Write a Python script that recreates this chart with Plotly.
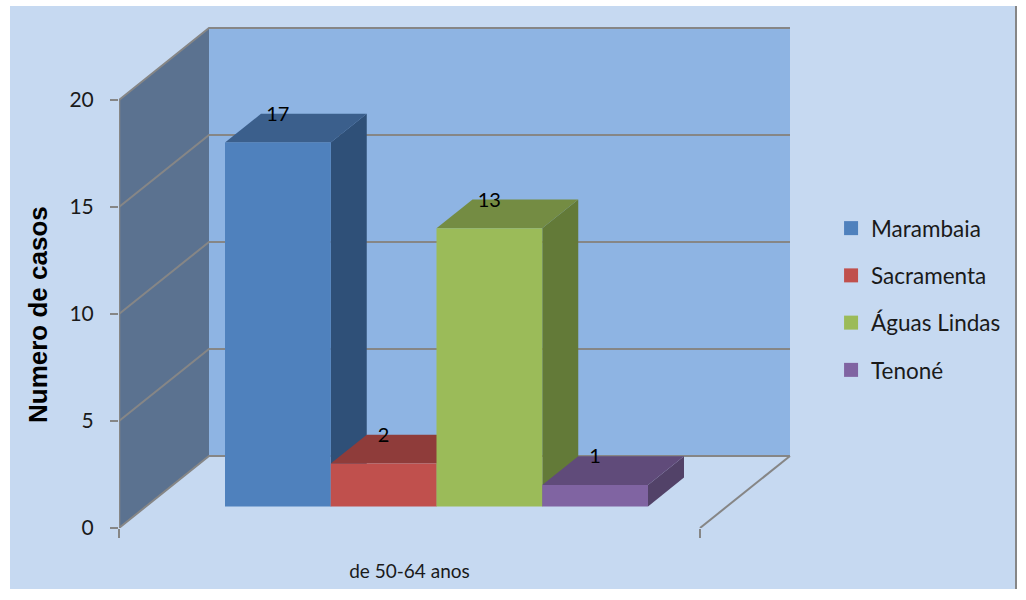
import plotly.graph_objects as go

# ---- data ----
CATEGORY = "de 50-64 anos"
SERIES = ["Marambaia", "Sacramenta", "Águas Lindas", "Tenoné"]
VALUES = [17, 2, 13, 1]
FRONT = ["#4F81BD", "#C0504D", "#9BBB59", "#8064A2"]
TOP = ["#3B5F8C", "#8F3C3A", "#748C43", "#604B7A"]
SIDE = ["#2F5078", "#7E3533", "#637A38", "#524268"]
Y_TICKS = [0, 5, 10, 15, 20]
Y_TITLE = "Numero de casos"

# ---- oblique 3-D box projection (category units across, value units up) ----
W, H = 1026, 600
PX_CAT = 581.0      # pixels per category width
PX_VAL = 21.4       # pixels per value unit
X0, Y0 = 119, 528   # pixel location of the chart origin
DEPTH_X = 90 / PX_CAT
DEPTH_V = 72 / PX_VAL
BAR_W = 105.75 / PX_CAT
GAP = (1 - BAR_W * len(VALUES)) / 2
D_FRONT, D_BACK = 0.30, 0.70
GRID = "#868686"
FONT = "Lato, 'Open Sans', sans-serif"


def proj(x, v, d):
    return x + DEPTH_X * d, v + DEPTH_V * d


def poly(points, color):
    pts = [proj(*p) for p in points] + [proj(*points[0])]
    return go.Scatter(x=[p[0] for p in pts], y=[p[1] for p in pts], mode="lines",
                      fill="toself", fillcolor=color, line=dict(width=0, color=color),
                      hoverinfo="skip", showlegend=False, xaxis="x2", yaxis="y")


def line(points, width=2, xaxis="x2"):
    pts = [proj(*p) for p in points]
    return go.Scatter(x=[p[0] for p in pts], y=[p[1] for p in pts], mode="lines",
                      line=dict(width=width, color=GRID),
                      hoverinfo="skip", showlegend=False, xaxis=xaxis, yaxis="y")


fig = go.Figure()
top_v = max(Y_TICKS)

# walls and floor
fig.add_trace(poly([(0, 0, 0), (1, 0, 0), (1, 0, 1), (0, 0, 1)], "#C6D9F1"))
fig.add_trace(poly([(0, 0, 1), (1, 0, 1), (1, top_v, 1), (0, top_v, 1)], "#8EB4E3"))
fig.add_trace(poly([(0, 0, 0), (0, 0, 1), (0, top_v, 1), (0, top_v, 0)], "#5B7290"))

# gridlines
for t in Y_TICKS:
    fig.add_trace(line([(0, t, 0), (0, t, 1), (1, t, 1)]))
fig.add_trace(line([(1, 0, 0), (1, 0, 1)]))
fig.add_trace(line([(0, 0, 0), (1, 0, 0)], 2.5, xaxis="x"))
fig.add_trace(line([(0, 0, 0), (0, top_v, 0)], 2.5))

# bars
for i, v in enumerate(VALUES):
    l = GAP + i * BAR_W
    r = l + BAR_W
    fig.add_trace(poly([(r, 0, D_FRONT), (r, 0, D_BACK), (r, v, D_BACK), (r, v, D_FRONT)], SIDE[i]))
    fig.add_trace(poly([(l, v, D_FRONT), (r, v, D_FRONT), (r, v, D_BACK), (l, v, D_BACK)], TOP[i]))
    fig.add_trace(poly([(l, 0, D_FRONT), (r, 0, D_FRONT), (r, v, D_FRONT), (l, v, D_FRONT)], FRONT[i]))

# value labels
for i, v in enumerate(VALUES):
    c = GAP + (i + 0.5) * BAR_W
    x_front, _ = proj(c, v, D_FRONT)
    _, v_back = proj(c, v, D_BACK)
    fig.add_trace(go.Scatter(x=[x_front], y=[v_back - 0.1], mode="text", text=[str(v)],
                             textposition="middle center",
                             textfont=dict(family=FONT, size=20, color="#000000"),
                             hoverinfo="skip", showlegend=False, xaxis="x2", yaxis="y"))

# legend entries
for i, name in enumerate(SERIES):
    fig.add_trace(go.Scatter(x=[None], y=[None], mode="markers", name=name, legendgroup=name,
                             marker=dict(symbol="square", size=14, color=FRONT[i]),
                             xaxis="x2", yaxis="y"))

x_hi = (W - X0) / PX_CAT
y_hi = Y0 / PX_VAL
x_dom = [X0 / W, 1]
y_dom = [(H - Y0) / H, 1]

fig.update_layout(
    width=W, height=H,
    margin=dict(l=0, r=0, t=0, b=0),
    paper_bgcolor="#FFFFFF",
    plot_bgcolor="rgba(0,0,0,0)",
    font=dict(family=FONT, size=21, color="#1A1A1A"),
    xaxis=dict(domain=x_dom, range=[0, x_hi], tickmode="array", tickvals=[0.5], ticktext=[CATEGORY],
               ticks="", showgrid=False, zeroline=False, showline=False, automargin=False,
               tickfont=dict(size=19, family=FONT, color="#1A1A1A"), ticklabelstandoff=30),
    xaxis2=dict(domain=x_dom, range=[0, x_hi], overlaying="x", anchor="y", side="bottom",
                tickmode="array", tickvals=[0, 1], ticktext=["", ""], ticks="outside", ticklen=9,
                tickwidth=2, tickcolor=GRID, showgrid=False, zeroline=False, showline=False,
                automargin=False),
    yaxis=dict(domain=y_dom, range=[0, y_hi], tickmode="array", tickvals=Y_TICKS,
               ticks="outside", ticklen=8, tickwidth=2, tickcolor=GRID,
               showgrid=False, zeroline=False, showline=False, automargin=False,
               tickfont=dict(size=21, family=FONT, color="#1A1A1A"), ticklabelstandoff=12),
    legend=dict(x=0.810, y=0.655, xanchor="left", yanchor="top", bgcolor="rgba(0,0,0,0)",
                tracegroupgap=15, font=dict(size=22.5, family=FONT, color="#1A1A1A"), itemclick=False),
    shapes=[
        dict(type="rect", xref="paper", yref="paper", layer="below",
             x0=10 / W, x1=1015 / W, y0=1 - 589 / H, y1=1 - 6 / H,
             fillcolor="#C6D9F1", line=dict(width=0)),
        dict(type="line", xref="paper", yref="paper", layer="below",
             x0=1016 / W, x1=1016 / W, y0=1 - 589 / H, y1=1 - 6 / H,
             line=dict(width=2, color=GRID)),
    ],
    annotations=[
        dict(text="<b>" + Y_TITLE + "</b>", xref="paper", yref="paper", x=38 / W, y=1 - 315 / H,
             showarrow=False, textangle=-90, xanchor="center", yanchor="middle",
             font=dict(family="'Liberation Sans', Arial, sans-serif", size=26, color="#000000")),
    ],
)

fig.write_html("out.html", config=dict(displayModeBar=False),
               post_script="document.body.style.margin='0';")
